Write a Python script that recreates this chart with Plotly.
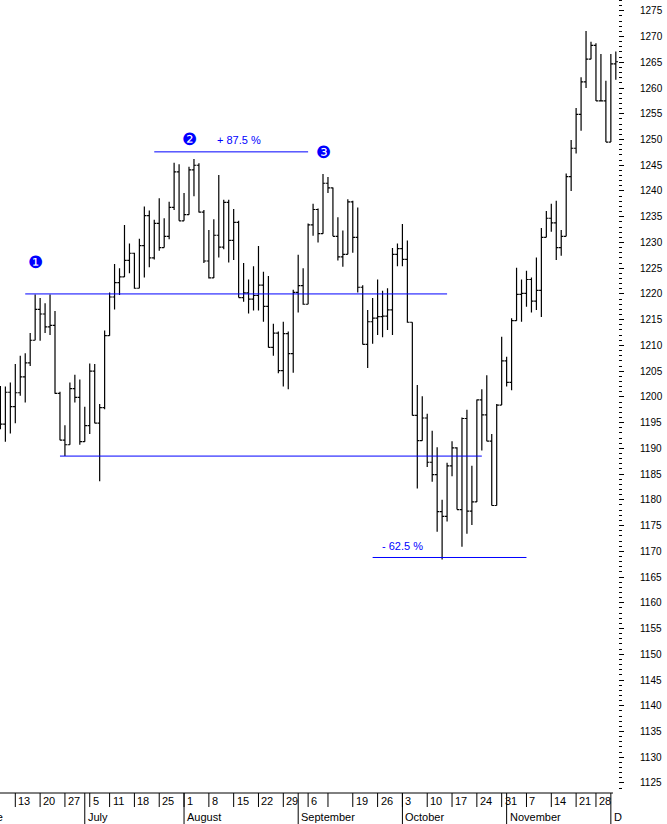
import numpy as np
import pandas as pd
import plotly.graph_objects as go

# ---------------- data ----------------
holidays = ["2005-07-04", "2005-09-05", "2005-11-24"]
dates = [d.strftime("%Y-%m-%d") for d in
         pd.bdate_range("2005-06-08", "2005-12-02", freq="C", holidays=holidays)]

opens = [
    1197.3, 1194.7, 1200.9, 1198.1, 1200.8, 1203.9, 1206.6, 1211.0, 1217.0, 1216.1,
    1213.6, 1213.9, 1200.7, 1191.6, 1190.7, 1201.6, 1199.9, 1191.3, 1194.4, 1205.0,
    1194.9, 1197.9, 1211.9, 1219.4, 1222.2, 1223.3, 1226.5, 1227.9, 1221.1, 1229.4,
    1235.2, 1227.0, 1233.7, 1229.0, 1231.2, 1236.8, 1243.7, 1234.2, 1235.4, 1244.1,
    1245.0, 1235.9, 1226.4, 1223.1, 1231.4, 1229.1, 1237.8, 1230.4, 1233.9, 1219.3,
    1220.2, 1219.0, 1219.7, 1221.7, 1217.6, 1209.6, 1212.4, 1205.1, 1212.3, 1208.4,
    1220.3, 1221.6, 1218.0, 1233.4, 1236.4, 1231.7, 1241.5, 1240.6, 1231.2, 1227.2,
    1227.7, 1237.9, 1231.0, 1221.3, 1210.2, 1214.6, 1215.3, 1215.6, 1215.7, 1216.9,
    1227.7, 1228.8, 1226.7, 1214.5, 1196.4, 1191.5, 1195.9, 1187.3, 1184.9, 1177.7,
    1176.8, 1186.6, 1190.1, 1178.1, 1195.8, 1177.8, 1179.6, 1199.4, 1196.5, 1191.4,
    1178.9, 1198.4, 1207.0, 1202.8, 1214.8, 1219.9, 1220.1, 1222.8, 1218.6, 1220.7,
    1231.0, 1234.7, 1233.8, 1229.0, 1231.2, 1242.8, 1248.3, 1254.9, 1261.2, 1265.6,
    1268.3, 1257.5, 1257.5, 1249.5, 1264.7,
]
highs = [
    1202.1, 1202.0, 1202.8, 1206.4, 1208.0, 1208.5, 1212.4, 1219.9, 1219.2, 1218.2,
    1219.9, 1216.7, 1201.0, 1194.5, 1202.8, 1204.3, 1203.4, 1198.1, 1206.5, 1206.4,
    1198.6, 1212.9, 1220.3, 1225.8, 1225.0, 1233.4, 1229.8, 1228.0, 1230.7, 1237.0,
    1236.2, 1234.4, 1238.6, 1234.7, 1237.9, 1245.5, 1245.2, 1239.6, 1244.7, 1246.2,
    1245.4, 1236.3, 1232.4, 1234.5, 1243.1, 1238.3, 1238.3, 1236.5, 1234.2, 1226.0,
    1222.8, 1225.4, 1229.3, 1224.3, 1223.5, 1214.2, 1212.7, 1214.6, 1212.7, 1220.8,
    1227.6, 1225.0, 1233.7, 1237.5, 1236.6, 1243.3, 1242.7, 1240.7, 1234.9, 1232.3,
    1238.4, 1238.1, 1236.8, 1221.7, 1216.9, 1219.2, 1222.8, 1220.6, 1221.1, 1228.9,
    1229.8, 1233.6, 1230.4, 1214.5, 1202.3, 1200.1, 1196.7, 1193.4, 1190.2, 1180.0,
    1187.2, 1191.4, 1190.2, 1196.0, 1197.5, 1186.6, 1199.5, 1201.5, 1204.2, 1192.8,
    1198.6, 1211.7, 1207.8, 1215.3, 1225.1, 1222.8, 1224.5, 1223.2, 1227.1, 1232.8,
    1236.1, 1237.5, 1238.1, 1232.4, 1243.4, 1249.9, 1256.1, 1262.1, 1271.1, 1269.0,
    1268.7, 1266.6, 1261.4, 1266.6, 1267.1,
]
lows = [
    1193.7, 1191.3, 1192.9, 1194.9, 1200.2, 1198.9, 1206.0, 1211.0, 1210.9, 1212.4,
    1212.0, 1200.6, 1191.6, 1188.5, 1190.7, 1198.9, 1190.7, 1191.3, 1192.8, 1194.9,
    1183.6, 1197.6, 1211.9, 1217.0, 1219.8, 1223.3, 1224.0, 1221.0, 1221.1, 1223.2,
    1225.2, 1226.7, 1228.4, 1229.0, 1230.6, 1236.3, 1234.2, 1234.2, 1235.4, 1239.0,
    1235.8, 1226.0, 1223.0, 1223.1, 1227.1, 1228.7, 1226.1, 1226.6, 1219.3, 1218.5,
    1216.2, 1216.8, 1216.8, 1214.6, 1209.6, 1208.0, 1204.6, 1202.0, 1201.5, 1204.7,
    1216.4, 1217.9, 1218.0, 1231.3, 1230.0, 1231.7, 1239.6, 1231.2, 1226.5, 1225.3,
    1227.7, 1228.0, 1220.3, 1210.2, 1205.6, 1210.3, 1212.0, 1211.6, 1213.0, 1212.0,
    1225.4, 1225.4, 1214.4, 1196.4, 1182.2, 1191.5, 1186.4, 1183.5, 1173.8, 1168.4,
    1175.8, 1184.6, 1178.1, 1170.9, 1173.4, 1175.1, 1179.6, 1189.6, 1191.4, 1178.9,
    1178.9, 1198.4, 1202.0, 1201.3, 1214.8, 1214.6, 1217.5, 1216.4, 1216.9, 1215.5,
    1231.0, 1232.1, 1226.6, 1227.4, 1231.2, 1240.0, 1247.3, 1251.7, 1260.0, 1265.6,
    1257.5, 1257.5, 1249.5, 1249.5, 1261.6,
]
closes = [
    1194.7, 1200.9, 1198.1, 1200.8, 1203.9, 1206.6, 1211.0, 1217.0, 1216.1, 1213.6,
    1213.9, 1200.7, 1191.6, 1190.7, 1201.6, 1199.9, 1191.3, 1194.4, 1205.0, 1194.9,
    1197.9, 1211.9, 1219.4, 1222.2, 1223.3, 1226.5, 1227.9, 1221.1, 1229.4, 1235.2,
    1227.0, 1233.7, 1229.0, 1231.2, 1236.8, 1243.7, 1234.2, 1235.4, 1244.1, 1245.0,
    1235.9, 1226.4, 1223.1, 1231.4, 1229.1, 1237.8, 1230.4, 1233.9, 1219.3, 1220.2,
    1219.0, 1219.7, 1221.7, 1217.6, 1209.6, 1212.4, 1205.1, 1212.3, 1208.4, 1220.3,
    1221.6, 1218.0, 1233.4, 1236.4, 1231.7, 1241.5, 1240.6, 1231.2, 1227.2, 1227.7,
    1237.9, 1231.0, 1221.3, 1210.2, 1214.6, 1215.3, 1215.6, 1215.7, 1216.9, 1227.7,
    1228.8, 1226.7, 1214.5, 1196.4, 1191.5, 1195.9, 1187.3, 1184.9, 1177.7, 1176.8,
    1186.6, 1190.1, 1178.1, 1195.8, 1177.8, 1179.6, 1199.4, 1196.5, 1191.4, 1178.9,
    1198.4, 1207.0, 1202.8, 1214.8, 1219.9, 1220.1, 1222.8, 1218.6, 1220.7, 1231.0,
    1234.7, 1233.8, 1229.0, 1231.2, 1242.8, 1248.3, 1254.9, 1261.2, 1265.6, 1268.3,
    1257.5, 1257.5, 1249.5, 1264.7, 1265.1,
]

week_start_dates = [
    "2005-06-13", "2005-06-20", "2005-06-27", "2005-07-05", "2005-07-11", "2005-07-18",
    "2005-07-25", "2005-08-01", "2005-08-08", "2005-08-15", "2005-08-22", "2005-08-29",
    "2005-09-06", "2005-09-12", "2005-09-19", "2005-09-26", "2005-10-03", "2005-10-10",
    "2005-10-17", "2005-10-24", "2005-10-31", "2005-11-07", "2005-11-14", "2005-11-21",
    "2005-11-28",
]
week_labels = ["13", "20", "27", "5", "11", "18", "25", "1", "8", "15", "22", "29",
               "6", "", "19", "26", "3", "10", "17", "24", "31", "7", "14", "21", "28"]

month_start_dates = ["2005-06-01", "2005-07-01", "2005-08-01", "2005-09-01",
                     "2005-10-03", "2005-11-01", "2005-12-01"]
month_labels = ["June", "July", "August", "September", "October", "November", "D"]

line_levels = [1220.0, 1188.5, 1247.6, 1168.8]
line_starts = ["2005-06-15", "2005-06-24", "2005-07-22", "2005-09-23"]
line_ends = ["2005-10-14", "2005-10-25", "2005-09-06", "2005-11-07"]

ann_texts = ["\u2776", "\u2777", "+ 87.5 %", "\u2778", "- 62.5 %"]
ann_dates = ["2005-06-17", "2005-08-02", "2005-08-16", "2005-09-09", "2005-10-03"]
ann_levels = [1226.3, 1250.1, 1249.9, 1247.6, 1171.1]

y_min, y_max = 1123.05, 1277.1

# ---------------- layout helpers ----------------
W, H = 667, 824
ML, MR, MT, MB = 0, 49, 0, 31
PW, PH = W - ML - MR, H - MT - MB
x_min, x_max = -0.083, 124.44
BLUE = "#0000ff"
FONT = "Liberation Sans, Arial, sans-serif"


def idx(d):
    return int(np.busday_count(dates[0], d, holidays=holidays))


def paper_x(v):
    return (v - x_min) / (x_max - x_min)


def paper_y_px(py):
    # py: pixel offset below the plot area's bottom edge
    return -py / PH


x = list(range(len(dates)))

fig = go.Figure()
fig.add_trace(go.Ohlc(
    x=x, open=opens, high=highs, low=lows, close=closes,
    increasing=dict(line=dict(color="black", width=1.2)),
    decreasing=dict(line=dict(color="black", width=1.2)),
    tickwidth=0.45, showlegend=False, hoverinfo="skip",
))

shapes = []
for lv, s, e in zip(line_levels, line_starts, line_ends):
    shapes.append(dict(type="line", xref="x", yref="y", x0=idx(s), x1=idx(e),
                       y0=lv, y1=lv, line=dict(color=BLUE, width=1)))

# bottom axis line
shapes.append(dict(type="line", xref="paper", yref="paper", x0=0, x1=613 / PW,
                   y0=0, y1=0, line=dict(color="black", width=1)))

annotations = []
for d, lab in zip(week_start_dates, week_labels):
    k = idx(d)
    shapes.append(dict(type="line", xref="x", yref="paper", x0=k, x1=k,
                       y0=0, y1=paper_y_px(14), line=dict(color="black", width=1)))
    if lab:
        annotations.append(dict(text=lab, xref="paper", yref="paper",
                                x=paper_x(k), y=paper_y_px(8), xanchor="left",
                                yanchor="middle", xshift=1, showarrow=False,
                                font=dict(size=11, color="black", family=FONT)))

for d, lab in zip(month_start_dates, month_labels):
    k = idx(d)
    shapes.append(dict(type="line", xref="x", yref="paper", x0=k, x1=k,
                       y0=0, y1=paper_y_px(31), line=dict(color="black", width=1)))
    annotations.append(dict(text=lab, xref="paper", yref="paper",
                            x=paper_x(k), y=paper_y_px(24), xanchor="left",
                            yanchor="middle", xshift=1, showarrow=False,
                            font=dict(size=11, color="black", family=FONT)))

for t, d, lv in zip(ann_texts, ann_dates, ann_levels):
    big = t in ("\u2776", "\u2777", "\u2778")
    annotations.append(dict(text=t, xref="x", yref="y", x=idx(d), y=lv,
                            xanchor="center", yanchor="middle", showarrow=False,
                            font=dict(size=17 if big else 11, color=BLUE,
                                      family="DejaVu Sans" if big else FONT)))

fig.update_layout(
    width=W, height=H,
    margin=dict(l=ML, r=MR, t=MT, b=MB, pad=0),
    paper_bgcolor="white", plot_bgcolor="white",
    showlegend=False,
    shapes=shapes, annotations=annotations,
    xaxis=dict(range=[x_min, x_max], showticklabels=False, showgrid=False,
               zeroline=False, showline=False, ticks="", rangeslider=dict(visible=False),
               fixedrange=True),
    yaxis=dict(range=[y_min, y_max], side="right", dtick=5, tick0=1125,
               showgrid=False, zeroline=False, showline=False,
               ticks="outside", ticklen=5, tickwidth=1, tickcolor="black",
               minor=dict(dtick=1, tick0=1125, ticks="outside", ticklen=3,
                          tickwidth=1, tickcolor="black", showgrid=False),
               ticklabelstandoff=14,
               tickfont=dict(size=10, color="black", family=FONT),
               fixedrange=True),
)

fig.write_html(
    "out.html",
    config={"displayModeBar": False},
    post_script="document.body.style.margin='0';document.body.style.overflow='hidden';",
)
